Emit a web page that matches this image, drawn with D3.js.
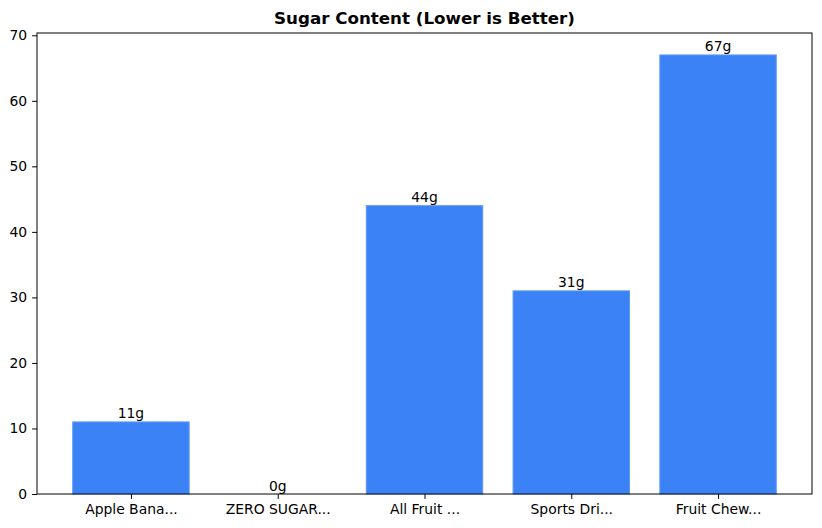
<!DOCTYPE html>
<html><head><meta charset="utf-8">
<script src="https://cdn.jsdelivr.net/npm/d3@7"></script>
<style>body{margin:0;background:#fff}svg{display:block}text{font-family:"DejaVu Sans",sans-serif}</style>
</head><body>
<svg id="c" width="822" height="528"></svg>
<script>
const categories = ["Apple Bana...", "ZERO SUGAR...", "All Fruit ...", "Sports Dri...", "Fruit Chew..."];
const sugar = [11, 0, 44, 31, 67];
const yTicks = [0, 10, 20, 30, 40, 50, 60, 70];
const titleText = "Sugar Content (Lower is Better)";

const svg = d3.select("#c");
const L = 37, R = 812, T = 33, B = 494;
const n = categories.length;
const x = d3.scaleLinear().domain([-0.64, n - 1 + 0.64]).range([L, R]);
const y = d3.scaleLinear().domain([0, d3.max(sugar) * 1.05]).range([B, T]);
const bw = x(0.8) - x(0);

svg.append("text").attr("x", (L + R) / 2).attr("y", 24).attr("text-anchor", "middle")
  .attr("font-size", 16.7).attr("font-weight", "bold").text(titleText);

svg.selectAll("rect.bar").data(sugar).join("rect").attr("class", "bar")
  .attr("x", (d, i) => x(i) - bw / 2 + 0.5).attr("width", bw - 1)
  .attr("y", d => y(d)).attr("height", d => B - y(d))
  .attr("fill", "#3b82f6").attr("stroke", "#5e98f7").attr("stroke-width", 1);

svg.selectAll("text.val").data(sugar).join("text").attr("class", "val")
  .attr("x", (d, i) => x(i)).attr("y", d => y(d) - 3.5).attr("text-anchor", "middle")
  .attr("font-size", 13.9).attr("fill", "#000").text(d => d + "g");

const yAxis = d3.axisLeft(y).tickValues(yTicks).tickSize(4.9).tickPadding(4.9).tickFormat(d3.format("d"));
const gy = svg.append("g").attr("transform", `translate(${L},0)`).call(yAxis);
gy.select(".domain").remove();
gy.selectAll("text").attr("font-size", 13.9).attr("font-family", '"DejaVu Sans",sans-serif').attr("fill", "#000");
gy.selectAll("line").attr("stroke", "#000").attr("stroke-width", 1);

const xAxis = d3.axisBottom(x).tickValues(d3.range(n)).tickSize(4.9).tickPadding(4.9).tickFormat(i => categories[i]);
const gx = svg.append("g").attr("transform", `translate(0,${B})`).call(xAxis);
gx.select(".domain").remove();
gx.selectAll("text").attr("font-size", 13.9).attr("font-family", '"DejaVu Sans",sans-serif').attr("fill", "#000");
gx.selectAll("line").attr("stroke", "#000").attr("stroke-width", 1);

svg.append("rect").attr("x", L).attr("y", T).attr("width", R - L).attr("height", B - T)
  .attr("fill", "none").attr("stroke", "#000").attr("stroke-width", 1);
</script>
</body></html>
